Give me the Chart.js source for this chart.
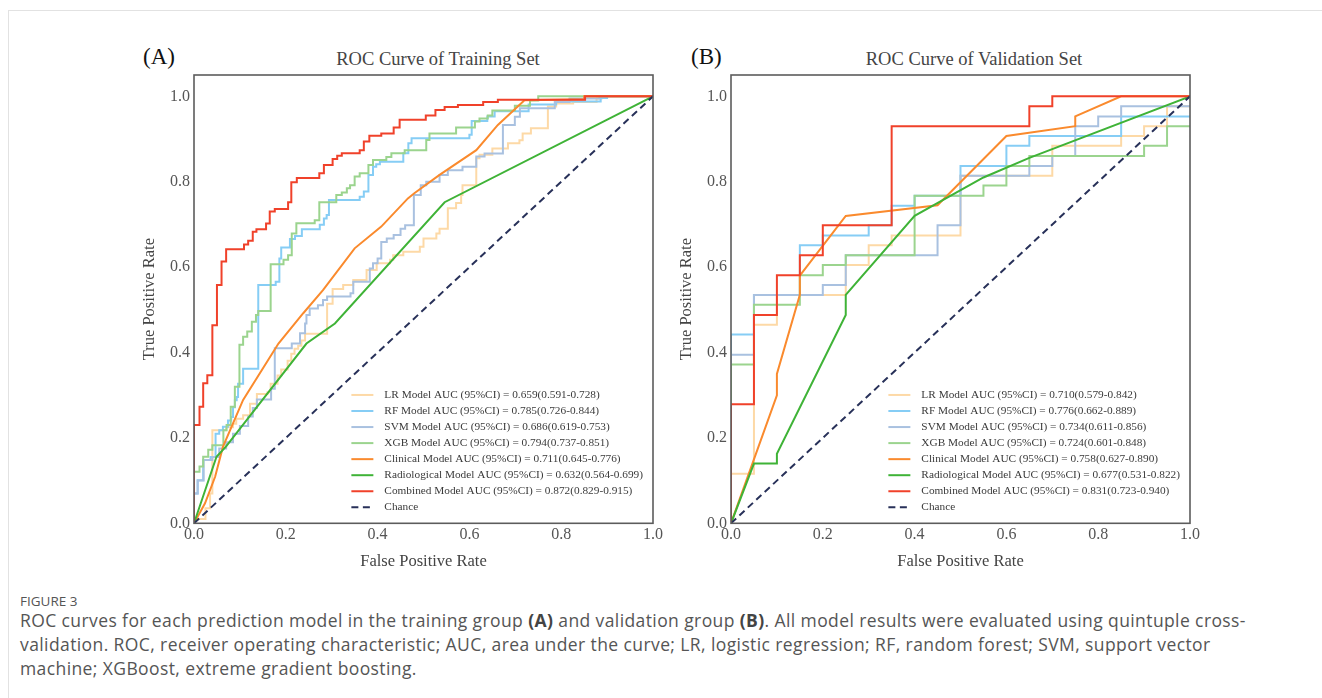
<!DOCTYPE html>
<html><head><meta charset="utf-8">
<script src="https://cdn.jsdelivr.net/npm/chart.js@4.4.1/dist/chart.umd.min.js"></script>
<style>
html,body{margin:0;padding:0;background:#fff;width:1322px;height:698px;overflow:hidden;position:relative;}
#card{position:absolute;left:8px;top:10px;width:1400px;height:800px;border:1px solid #e2e2e2;}
canvas{position:absolute;}
.tag{position:absolute;font-family:"Liberation Serif",serif;font-size:23px;line-height:23px;color:#111;white-space:nowrap;}
.ttl{position:absolute;font-family:"Liberation Serif",serif;font-size:18.5px;line-height:18.5px;color:#444;white-space:nowrap;transform:translateX(-50%);}
#fig{position:absolute;left:20px;top:593px;font-family:"Open Sans",sans-serif;font-size:13.5px;line-height:16px;color:#555;}
#cap{position:absolute;left:20px;top:608px;font-family:"Open Sans",sans-serif;font-size:17.5px;letter-spacing:0.4px;line-height:24px;color:#555;white-space:nowrap;}
#cap b{font-weight:700;color:#444;}
</style></head>
<body>
<div id="card"></div>
<div class="tag" style="left:143px;top:45px">(A)</div>
<div class="tag" style="left:691px;top:45px">(B)</div>
<div class="ttl" style="left:438px;top:50px">ROC Curve of Training Set</div>
<div class="ttl" style="left:974px;top:50px">ROC Curve of Validation Set</div>
<canvas id="cA" width="565" height="560" style="left:100px;top:30px"></canvas>
<canvas id="cB" width="565" height="560" style="left:637px;top:30px"></canvas>
<div id="fig">FIGURE 3</div>
<div id="cap">ROC curves for each prediction model in the training group <b>(A)</b> and validation group <b>(B)</b>. All model results were evaluated using quintuple cross-<br>validation. ROC, receiver operating characteristic; AUC, area under the curve; LR, logistic regression; RF, random forest; SVM, support vector<br>machine; XGBoost, extreme gradient boosting.</div>
<script>
// ---------- data ----------
const tickValuesX = [0, 0.2, 0.4, 0.6, 0.8, 1.0];
const tickValuesY = [0, 0.2, 0.4, 0.6, 0.8, 1.0];

const trainLabels = [
  "LR Model AUC (95%CI) = 0.659(0.591-0.728)",
  "RF Model AUC (95%CI) = 0.785(0.726-0.844)",
  "SVM Model AUC (95%CI) = 0.686(0.619-0.753)",
  "XGB Model AUC (95%CI) = 0.794(0.737-0.851)",
  "Clinical Model AUC (95%CI) = 0.711(0.645-0.776)",
  "Radiological Model AUC (95%CI) = 0.632(0.564-0.699)",
  "Combined Model AUC (95%CI) = 0.872(0.829-0.915)",
  "Chance"
];
const valLabels = [
  "LR Model AUC (95%CI) = 0.710(0.579-0.842)",
  "RF Model AUC (95%CI) = 0.776(0.662-0.889)",
  "SVM Model AUC (95%CI) = 0.734(0.611-0.856)",
  "XGB Model AUC (95%CI) = 0.724(0.601-0.848)",
  "Clinical Model AUC (95%CI) = 0.758(0.627-0.890)",
  "Radiological Model AUC (95%CI) = 0.677(0.531-0.822)",
  "Combined Model AUC (95%CI) = 0.831(0.723-0.940)",
  "Chance"
];

// training set ROC points [FPR, TPR]
const trainLR = [[0,0],[0,0.01],[0.025,0.035],[0.035,0.07],[0.04,0.218],[0.07,0.225],[0.085,0.233],[0.092,0.245],[0.107,0.253],[0.122,0.28],[0.137,0.303],[0.16,0.307],[0.167,0.327],[0.182,0.346],[0.19,0.36],[0.204,0.381],[0.212,0.397],[0.219,0.409],[0.227,0.416],[0.234,0.428],[0.242,0.444],[0.29,0.514],[0.302,0.549],[0.325,0.558],[0.347,0.57],[0.376,0.593],[0.398,0.609],[0.427,0.617],[0.434,0.628],[0.456,0.636],[0.492,0.648],[0.5,0.667],[0.528,0.679],[0.535,0.69],[0.553,0.738],[0.571,0.75],[0.582,0.769],[0.585,0.792],[0.615,0.855],[0.622,0.863],[0.65,0.878],[0.684,0.89],[0.709,0.897],[0.716,0.913],[0.734,0.925],[0.771,0.976],[0.789,0.983],[0.826,0.987],[0.877,0.995],[0.888,1],[1,1]];
const trainRF = [[0,0],[0,0.07],[0.008,0.101],[0.02,0.148],[0.036,0.155],[0.047,0.21],[0.055,0.218],[0.063,0.226],[0.074,0.241],[0.081,0.249],[0.085,0.272],[0.089,0.288],[0.093,0.296],[0.096,0.327],[0.107,0.362],[0.14,0.558],[0.178,0.566],[0.186,0.62],[0.19,0.646],[0.209,0.666],[0.22,0.673],[0.235,0.689],[0.274,0.699],[0.283,0.714],[0.289,0.722],[0.294,0.757],[0.361,0.765],[0.37,0.777],[0.38,0.816],[0.39,0.835],[0.397,0.841],[0.405,0.847],[0.456,0.867],[0.467,0.89],[0.474,0.902],[0.6,0.91],[0.605,0.942],[0.639,0.953],[0.655,0.965],[0.729,0.981],[0.789,0.988],[0.886,0.996],[0.9,1],[1,1]];
const trainSVM = [[0,0],[0,0.07],[0.008,0.1],[0.021,0.148],[0.04,0.155],[0.055,0.175],[0.07,0.19],[0.085,0.21],[0.1,0.228],[0.118,0.25],[0.128,0.27],[0.137,0.29],[0.168,0.315],[0.176,0.41],[0.213,0.421],[0.231,0.445],[0.242,0.468],[0.245,0.488],[0.252,0.503],[0.27,0.511],[0.281,0.523],[0.29,0.531],[0.341,0.539],[0.347,0.566],[0.383,0.597],[0.39,0.609],[0.4,0.62],[0.408,0.659],[0.42,0.667],[0.435,0.675],[0.45,0.69],[0.46,0.698],[0.479,0.769],[0.494,0.792],[0.506,0.8],[0.535,0.816],[0.553,0.827],[0.585,0.835],[0.615,0.859],[0.633,0.866],[0.673,0.933],[0.699,0.952],[0.71,0.972],[0.786,0.987],[0.818,0.995],[0.883,1],[1,1]];
const trainXGB = [[0,0],[0,0.121],[0.012,0.133],[0.02,0.156],[0.031,0.172],[0.04,0.183],[0.064,0.218],[0.071,0.23],[0.08,0.273],[0.089,0.32],[0.099,0.418],[0.107,0.437],[0.116,0.449],[0.126,0.472],[0.135,0.488],[0.14,0.497],[0.167,0.607],[0.195,0.617],[0.205,0.628],[0.213,0.679],[0.223,0.703],[0.263,0.71],[0.273,0.752],[0.31,0.769],[0.322,0.775],[0.333,0.785],[0.34,0.792],[0.35,0.812],[0.361,0.82],[0.38,0.839],[0.39,0.851],[0.419,0.858],[0.43,0.867],[0.459,0.874],[0.506,0.898],[0.513,0.913],[0.571,0.927],[0.612,0.941],[0.622,0.948],[0.64,0.955],[0.65,0.967],[0.699,0.978],[0.732,0.99],[0.75,1],[1,1]];
const trainClinical = [[0,0],[0.024,0.047],[0.046,0.109],[0.063,0.179],[0.107,0.289],[0.184,0.421],[0.238,0.492],[0.281,0.546],[0.35,0.644],[0.408,0.695],[0.466,0.761],[0.48,0.773],[0.535,0.816],[0.615,0.874],[0.662,0.933],[0.72,0.991],[0.85,0.993],[0.85,1],[1,1]];
const trainRadiological = [[0,0],[0.049,0.156],[0.07,0.18],[0.245,0.421],[0.307,0.468],[0.546,0.752],[1,1]];
const trainCombined = [[0,0],[0,0.23],[0.012,0.273],[0.02,0.328],[0.029,0.347],[0.04,0.464],[0.05,0.558],[0.06,0.613],[0.07,0.642],[0.109,0.653],[0.118,0.662],[0.128,0.683],[0.136,0.689],[0.157,0.702],[0.165,0.73],[0.176,0.736],[0.205,0.752],[0.212,0.799],[0.224,0.809],[0.273,0.82],[0.283,0.839],[0.302,0.853],[0.312,0.861],[0.322,0.867],[0.361,0.874],[0.37,0.894],[0.382,0.908],[0.408,0.913],[0.435,0.927],[0.448,0.945],[0.505,0.955],[0.526,0.968],[0.546,0.975],[0.575,0.98],[0.63,0.987],[0.662,0.992],[0.852,1],[1,1]];

// validation set ROC points [FPR, TPR]
const valLR = [[0,0],[0,0.116],[0.05,0.465],[0.1,0.535],[0.25,0.605],[0.3,0.651],[0.35,0.674],[0.5,0.814],[0.7,0.884],[0.85,0.907],[0.9,0.93],[0.95,0.977],[1,0.977]];
const valRF = [[0,0],[0,0.442],[0.05,0.535],[0.15,0.651],[0.2,0.674],[0.3,0.698],[0.35,0.744],[0.4,0.767],[0.5,0.837],[0.6,0.884],[0.65,0.907],[0.85,0.953],[1,0.953]];
const valSVM = [[0,0],[0,0.395],[0.05,0.535],[0.2,0.558],[0.25,0.628],[0.45,0.698],[0.5,0.814],[0.65,0.837],[0.7,0.86],[0.75,0.93],[0.8,0.953],[0.85,0.977],[1,0.977]];
const valXGB = [[0,0],[0,0.372],[0.05,0.512],[0.15,0.581],[0.2,0.605],[0.25,0.628],[0.4,0.767],[0.55,0.791],[0.6,0.837],[0.65,0.86],[0.9,0.884],[0.95,0.93],[1,0.93]];
const valClinical = [[0,0],[0.1,0.3],[0.1,0.35],[0.15,0.535],[0.15,0.58],[0.25,0.72],[0.45,0.745],[0.6,0.907],[0.75,0.93],[0.75,0.953],[0.85,1],[1,1]];
const valRadiological = [[0,0],[0.05,0.14],[0.1,0.14],[0.1,0.163],[0.25,0.488],[0.25,0.535],[0.4,0.72],[0.55,0.81],[0.65,0.856],[1,1]];
const valCombined = [[0,0],[0,0.279],[0.05,0.488],[0.1,0.581],[0.15,0.628],[0.2,0.698],[0.35,0.93],[0.65,0.977],[0.7,1],[1,1]];

const chanceLine = [[0,0],[1,1]];

// ---------- styling ----------
const SERIF = "'Liberation Serif','Times New Roman',serif";
const seriesColors = ['#fdd9a6','#86cdf5','#a9c1e0','#9bd48e','#fa8a2d','#3fb337','#f0412a'];
const seriesStepped = ['before','before','before','before',false,false,'before'];
const chanceColor = '#283159';

function makeDatasets(series, labels){
  const ds = series.map((pts,i)=>({
    label: labels[i],
    data: pts.map(p=>({x:p[0], y:p[1]})),
    borderColor: seriesColors[i],
    borderWidth: 2,
    pointRadius: 0,
    tension: 0,
    stepped: seriesStepped[i],
    order: 20 - i
  }));
  ds.push({
    label: labels[labels.length-1],
    data: chanceLine.map(p=>({x:p[0], y:p[1]})),
    borderColor: chanceColor,
    borderDash: [7,4.5],
    borderWidth: 2,
    pointRadius: 0,
    order: 0
  });
  return ds;
}

const framePlugin = {
  id:'frame',
  afterDraw(chart){
    const {ctx, chartArea:a} = chart;
    ctx.save();
    ctx.strokeStyle = '#5c5c5c';
    ctx.lineWidth = 1.6;
    ctx.strokeRect(a.left, a.top, a.right-a.left, a.bottom-a.top);
    ctx.restore();
  }
};

const rocLegendPlugin = {
  id:'rocLegend',
  afterDraw(chart){
    const {ctx, chartArea:a} = chart;
    const ds = chart.data.datasets;
    ctx.save();
    ctx.font = '11.3px ' + SERIF;
    let maxW = 0;
    ds.forEach(d=>{ maxW = Math.max(maxW, ctx.measureText(d.label).width); });
    const textX = a.right - 10 - maxW;
    const rowH = 16.05;
    const y0 = a.bottom - 16 - rowH*(ds.length-1);
    ds.forEach((d,i)=>{
      const y = y0 + i*rowH;
      ctx.strokeStyle = d.borderColor;
      ctx.lineWidth = 2;
      ctx.setLineDash(d.borderDash || []);
      ctx.beginPath(); ctx.moveTo(textX-33, y); ctx.lineTo(textX-11, y); ctx.stroke();
      ctx.setLineDash([]);
      ctx.fillStyle = '#3a3a3a';
      ctx.textBaseline = 'middle';
      ctx.textAlign = 'left';
      ctx.fillText(d.label, textX, y);
    });
    ctx.restore();
  }
};

function makeChart(id, series, labels){
  return new Chart(document.getElementById(id), {
    type: 'line',
    data: { datasets: makeDatasets(series, labels) },
    options: {
      responsive: false,
      animation: false,
      layout: { padding: { top: 45, right: 11, left: 0, bottom: 0 } },
      plugins: { legend: { display: false }, tooltip: { enabled: false }, title: { display: false } },
      scales: {
        x: {
          type: 'linear', min: 0, max: 1,
          grid: { display: false, drawTicks: false },
          border: { display: false },
          afterBuildTicks: s => { s.ticks = tickValuesX.map(v=>({value:v})); },
          ticks: { padding: 2, color: '#555', font: { family: SERIF, size: 16 }, maxRotation: 0, autoSkip: false,
                   callback: v => Number(v).toFixed(1) },
          title: { display: true, text: 'False Positive Rate', color: '#444', font: { family: SERIF, size: 16.5 }, padding: { top: 0, bottom: 18 } },
          afterFit: s => { s.height = 66.7; }
        },
        y: {
          type: 'linear', min: 0, max: 1.05,
          grid: { display: false, drawTicks: false },
          border: { display: false },
          afterBuildTicks: s => { s.ticks = tickValuesY.map(v=>({value:v})); },
          ticks: { padding: 4, color: '#555', font: { family: SERIF, size: 16 }, autoSkip: false,
                   callback: v => Number(v).toFixed(1) },
          title: { display: true, text: 'True Positive Rate', color: '#444', font: { family: SERIF, size: 16.5 }, padding: { top: 40, bottom: 0 } },
          afterFit: s => { s.width = 94; }
        }
      }
    },
    plugins: [framePlugin, rocLegendPlugin]
  });
}

makeChart('cA', [trainLR, trainRF, trainSVM, trainXGB, trainClinical, trainRadiological, trainCombined], trainLabels);
makeChart('cB', [valLR, valRF, valSVM, valXGB, valClinical, valRadiological, valCombined], valLabels);
</script>
</body></html>
